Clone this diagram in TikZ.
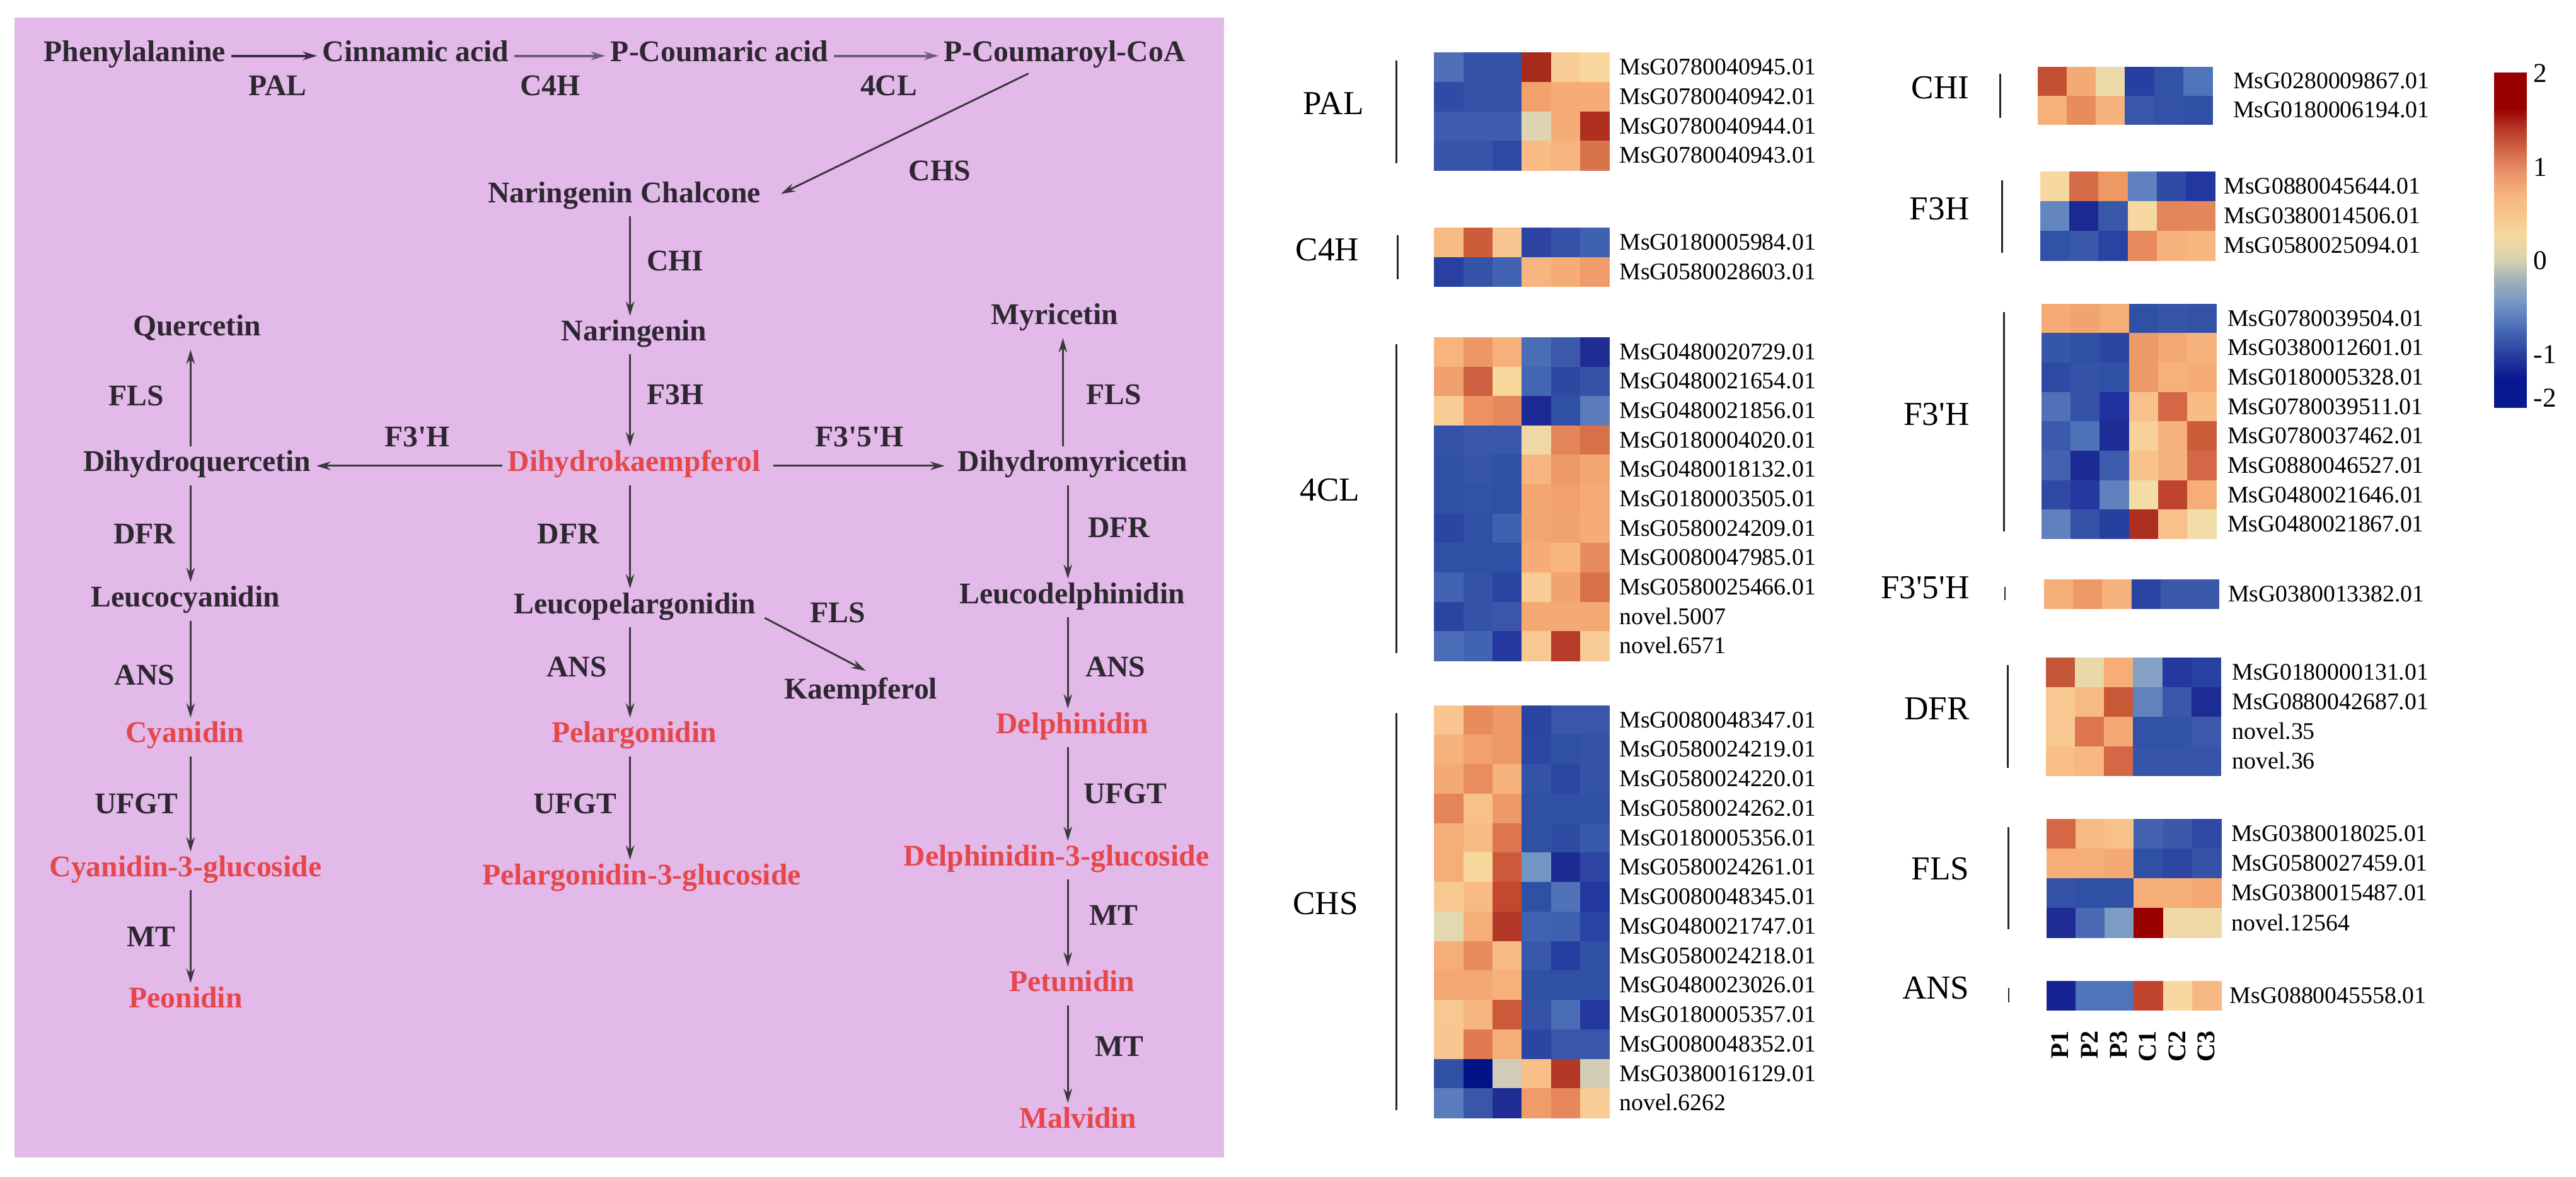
\documentclass[tikz,border=0pt]{standalone}
\usepackage{fontspec}
\setmainfont{Liberation Serif}
\usetikzlibrary{arrows.meta,calc}

\definecolor{panel}{RGB}{227,185,234}
\definecolor{ink}{HTML}{2D2830}
\definecolor{pigment}{HTML}{E5474B}
\definecolor{flowgray}{HTML}{3A3A3A}
\definecolor{rowone}{HTML}{3D2A48}
\definecolor{rowtwo}{HTML}{6E5C7C}

% one heat map block: x0, y0, row height, rows of cell colours
\newcommand{\hmblock}[4]{%
  \foreach \hmline [count=\j from 0] in {#4}{%
    \foreach \hc [count=\k from 0] in \hmline{%
      \definecolor{hmcell}{HTML}{\hc}%
      \fill[hmcell] ({#1+17.75*\k},{#2+#3*\j}) rectangle ++(17.95,{#3+0.2});
    }%
  }}
% gene names beside a block: name prefix, x, y0, row height, names
\newcommand{\genes}[5]{%
  \foreach \g [count=\j from 0] in {#5}
    \node[gene] (#1\j) at (#2,{#3+#4*\j+#4/2}) {\g};}

\begin{document}
\begin{tikzpicture}[x=0.025cm, y=-0.025cm, line join=round,
    >={Stealth[length=2.2mm,width=1.3mm]},
    cpd/.style={font=\fontsize{13}{15}\selectfont\bfseries, text=ink, inner xsep=0.075cm, inner ysep=0.125cm, text height=0.7em, text depth=0.22em},
    pig/.style={cpd, text=pigment},
    enz/.style={font=\fontsize{13}{15}\selectfont\bfseries, text=ink, inner sep=0pt},
    flow/.style={->, draw=flowgray, line width=0.8pt},
    gene/.style={font=\fontsize{10.3}{12}\selectfont, anchor=west, inner sep=0pt, text height=0.66em, text depth=0pt},
    group/.style={font=\fontsize{14.5}{16}\selectfont, inner sep=0pt, text height=0.66em, text depth=0pt},
    gbar/.style={draw=black!85, line width=0.8pt},
    collab/.style={font=\fontsize{11}{13}\selectfont\bfseries, rotate=90, anchor=east, inner sep=0pt, text height=0.66em, text depth=0pt},
    cblab/.style={font=\fontsize{11.8}{13}\selectfont, anchor=west, inner sep=0pt, text height=0.66em, text depth=0pt}]
\useasboundingbox (0,0) rectangle (1568,716);

% ---------------- pathway ----------------
\fill[panel] (9,10.7) rectangle (745,704.3);
\coordinate (colL) at (116,0);
\coordinate (colM) at (383.5,0);
\coordinate (colR) at (650,0);
\coordinate (colQ) at (116,0);
\coordinate (colY) at (647,0);

\node[cpd] (phe)  at (82,34)  {Phenylalanine};
\node[cpd] (cin)  at (253,34) {Cinnamic acid};
\node[cpd] (pcou) at (438,34) {P-Coumaric acid};
\node[cpd] (pcoa) at (648,34) {P-Coumaroyl-CoA};
\node[cpd] (chal) at (380,120) {Naringenin Chalcone};
\node[cpd] (nar)  at (386,204) {Naringenin};
\node[cpd] (que)  at (120,201) {Quercetin};
\node[cpd] (myr)  at (642,194) {Myricetin};
\node[cpd] (dhq)  at (120,283.5) {Dihydroquercetin};
\node[pig] (dhk)  at (386,283.5) {Dihydrokaempferol};
\node[cpd] (dhm)  at (653,283.5) {Dihydromyricetin};
\node[cpd] (lcy)  at (113,366) {Leucocyanidin};
\node[cpd] (lpel) at (386.5,370) {Leucopelargonidin};
\node[cpd] (ldel) at (652.6,364) {Leucodelphinidin};
\node[cpd] (kae)  at (524,422) {Kaempferol};
\node[pig] (cya)  at (112.5,448.5) {Cyanidin};
\node[pig] (pel)  at (386,448.5) {Pelargonidin};
\node[pig] (del)  at (652.6,443) {Delphinidin};
\node[pig] (cyg)  at (113,530) {Cyanidin-3-glucoside};
\node[pig] (pelg) at (390.5,535) {Pelargonidin-3-glucoside};
\node[pig] (delg) at (643,523.5) {Delphinidin-3-glucoside};
\node[pig] (peo)  at (113,610) {Peonidin};
\node[pig] (pet)  at (652.6,600) {Petunidin};
\node[pig] (mal)  at (656,683) {Malvidin};

\draw[->, draw=rowone, line width=1.1pt] (phe) -- (cin);
\draw[->, draw=rowtwo, line width=1.1pt] (cin) -- (pcou);
\draw[->, draw=rowtwo, line width=1.1pt] (pcou) -- (pcoa);
\draw[flow] ($(pcoa.south)+(-22,-1)$) -- ($(chal.east)+(9,-2)$);

\draw[flow] (chal.south -| colM) -- (nar.north -| colM);
\draw[flow] (nar.south -| colM) -- (dhk.north -| colM);
\draw[flow] (dhk.south -| colM) -- (lpel.north -| colM);
\draw[flow] (lpel.south -| colM) -- (pel.north -| colM);
\draw[flow] (pel.south -| colM) -- (pelg.north -| colM);
\draw[flow] ($(lpel.east)+(2,6)$) -- ($(kae.north)+(3,-2)$);

\draw[flow] (dhk) -- (dhq);
\draw[flow, shorten <=0.12cm, shorten >=0.12cm] (dhk) -- (dhm);
\draw[flow] (dhq.north -| colQ) -- (que.south -| colQ);
\draw[flow] (dhq.south -| colL) -- (lcy.north -| colL);
\draw[flow] (lcy.south -| colL) -- (cya.north -| colL);
\draw[flow] (cya.south -| colL) -- (cyg.north -| colL);
\draw[flow] (cyg.south -| colL) -- (peo.north -| colL);

\draw[flow] (dhm.north -| colY) -- (myr.south -| colY);
\draw[flow] (dhm.south -| colR) -- (ldel.north -| colR);
\draw[flow] (ldel.south -| colR) -- (del.north -| colR);
\draw[flow] (del.south -| colR) -- (delg.north -| colR);
\draw[flow] (delg.south -| colR) -- (pet.north -| colR);
\draw[flow] (pet.south -| colR) -- (mal.north -| colR);

\node[enz] (epal)  at (169,52) {PAL};
\node[enz] (ec4h)  at (335,52) {C4H};
\node[enz] (e4cl)  at (541,52) {4CL};
\node[enz] (echs)  at (572,104) {CHS};
\node[enz] (echi)  at (411,159) {CHI};
\node[enz] (eflsq) at (83,241) {FLS};
\node[enz] (ef3h)  at (411,240) {F3H};
\node[enz] (eflsm) at (678,240) {FLS};
\node[enz] (ef3p)  at (254,266) {F3\textquotesingle H};
\node[enz] (ef35)  at (523,266) {F3\textquotesingle 5\textquotesingle H};
\node[enz] (edfrl) at (88,325) {DFR};
\node[enz] (edfrm) at (346,325) {DFR};
\node[enz] (edfrr) at (681,321) {DFR};
\node[enz] (eflsk) at (510,373) {FLS};
\node[enz] (eansl) at (88,411) {ANS};
\node[enz] (eansm) at (351,406) {ANS};
\node[enz] (eansr) at (679,406) {ANS};
\node[enz] (eufl)  at (83,489) {UFGT};
\node[enz] (eufm)  at (350,489) {UFGT};
\node[enz] (eufr)  at (685,483) {UFGT};
\node[enz] (emtl)  at (92,570) {MT};
\node[enz] (emtr)  at (678,557) {MT};
\node[enz] (emtp)  at (681.5,637) {MT};

% ---------------- heat maps, left column ----------------
\hmblock{873}{32}{17.9}{%
{4F70B8,3553A8,3553A8,A82A1A,F8CC94,F8D89C},%
{2F4BA5,3452A8,3452A8,F2A06C,F6AC76,F6AC76},%
{3F5DB0,3F5DB0,3F5DB0,DED6B2,F6AC76,B03020},%
{3755AA,3755AA,2E48A6,F8BC84,F6B47E,D8744A}}
\hmblock{873}{138.4}{18}{%
{F7BA82,CC5C3A,F8C490,2E44A2,3452A8,4060B0},%
{2840A0,3452A8,4262B2,F6B47E,F6AC76,F09C6A}}
\hmblock{873}{205.2}{17.9}{%
{F7B47E,EE9664,F7B07C,4A6EB6,3C58AA,1E2C94},%
{F0A06C,CC6040,F8D89C,4466B2,2E48A2,3452A8},%
{F8CC94,EE9262,E6885C,1E2A94,3050A6,5A7CBA},%
{3452A8,3A58AA,3A58AA,F0D8A6,E4845A,D8704A},%
{3050A6,3654AA,3050A6,F7B47E,EE9A68,F4A670},%
{3050A6,3252A8,3050A6,F4A670,F2A06C,F6AC76},%
{2A46A2,3050A6,4060B0,F4A670,F2A470,F6AC76},%
{3050A6,3050A6,3050A6,F6AC76,F7B67E,E68C60},%
{4262B2,3452A8,2A44A2,F8CC94,F2A470,D8704A},%
{2A44A2,3452A8,3A56AA,F4A872,F4AA74,F4A872},%
{4A6CB6,4262B2,2438A0,F8C892,B83C2A,F8CC94}}
\hmblock{873}{429.2}{17.93}{%
{F8C490,E88C5C,EE9A68,2A44A2,3A56AA,3A56AA},%
{F6B27C,F2A06C,EE9A68,2C48A4,3050A6,3452A8},%
{F4AA74,EA8E60,F6B27C,3452A8,2C46A2,3452A8},%
{E4845A,F8C08A,EE9A68,3050A6,3050A6,3050A6},%
{F6AE78,F7BC84,DE7450,3050A6,2E4CA4,3858AA},%
{F6AE78,F8D89C,CC5A3A,7296C4,1C2A92,2E46A2},%
{F8C892,F7BA82,C4482E,3050A6,5072B8,2238A0},%
{E4D8B0,F6AE78,B43828,4062B0,4060B0,2A42A2},%
{F6AE78,E88C5E,F8BA84,3A58AA,263EA0,3050A6},%
{F4A874,F4A874,F6B07A,3050A6,3050A6,3050A6},%
{F8C892,F6B47E,CC5A3A,3452A8,4A6CB6,2438A0},%
{F8C490,E07A50,F6AE78,2A46A2,3A56AA,3A56AA},%
{3050A6,001488,D0CCB8,F8C088,B43826,D2CEB6},%
{5A7CBC,3A56AA,1E2C94,F09C6A,E6885C,F8CC94}}

\genes{pal}{985.5}{32}{17.9}{MsG0780040945.01,MsG0780040942.01,MsG0780040944.01,MsG0780040943.01}
\genes{cfh}{985.5}{138.4}{18}{MsG0180005984.01,MsG0580028603.01}
\genes{fcl}{985.5}{205.2}{17.9}{MsG0480020729.01,MsG0480021654.01,MsG0480021856.01,MsG0180004020.01,MsG0480018132.01,MsG0180003505.01,MsG0580024209.01,MsG0080047985.01,MsG0580025466.01,novel.5007,novel.6571}
\genes{chs}{985.5}{429.2}{17.93}{MsG0080048347.01,MsG0580024219.01,MsG0580024220.01,MsG0580024262.01,MsG0180005356.01,MsG0580024261.01,MsG0080048345.01,MsG0480021747.01,MsG0580024218.01,MsG0480023026.01,MsG0180005357.01,MsG0080048352.01,MsG0380016129.01,novel.6262}

\draw[gbar] (850,36.8) -- (850,99.5);
\draw[gbar] (850.6,143) -- (850.6,170);
\draw[gbar] (850,209.6) -- (850,397.4);
\draw[gbar] (850,434) -- (850,675.6);
\node[group] (gpal) at (811.7,65) {PAL};
\node[group] (gc4h) at (808,154) {C4H};
\node[group] (g4cl) at (809.5,300) {4CL};
\node[group] (gchs) at (806.8,552) {CHS};

% ---------------- heat maps, right column ----------------
\hmblock{1240.2}{40.5}{17.65}{%
{C45032,F4AA74,EEDAA8,2640A2,3252A8,5074BA},%
{F6B07A,E88C5E,F6B27C,3856AA,3452A8,3050A6}}
\hmblock{1241.8}{104.3}{18.1}{%
{F6D8A0,D66C48,EE9864,5E80BE,2E4AA4,2238A0},%
{6486C0,1C2894,3A58AA,F6D8A0,E4845A,E4865C},%
{3252A8,3A58AA,2A42A2,E88A5E,F6B27C,F7B67E}}
\hmblock{1242.6}{184.8}{17.9}{%
{F6AA74,F2A470,F6AE78,3050A6,3654AA,3452A8},%
{3656AA,3050A6,2A46A2,EE9A68,F4A872,F6B27C},%
{2E4AA4,3452A8,3050A6,EE9A68,F6B07A,F6AC76},%
{5070B8,3452A8,2032A0,F8C08A,D46846,F8BC84},%
{3C5AAC,5072B8,1E2C96,F8D09A,F6B27C,CC5C3A},%
{4262B0,1C2A94,3E5CAE,F8C28C,F6B27C,D46846},%
{2E4AA4,2438A0,6080BE,F4DCA6,BE4430,F6AE78},%
{6080BE,3452A8,2640A0,AC2E1E,F8C08A,F2DCA8}}
\hmblock{1244.1}{352.7}{17.9}{%
{F6AE78,EE9866,F6B27C,2A42A2,3A58AA,3A58AA}}
\hmblock{1245.2}{400}{18.05}{%
{C45638,EAD8A8,F6AE76,84A0C4,2438A0,2840A2},%
{F8C892,F6BA84,C85838,6282BE,3A58AA,1E2C96},%
{F8C892,DE7450,F4A874,3252A8,3252A8,3C5AAC},%
{F7BE86,F6B880,D46846,3654AA,3654AA,3654AA}}
\hmblock{1245.6}{498.4}{18.07}{%
{D46846,F7BA82,F8C08A,4262B0,3A58AA,2E48A4},%
{F6AE78,F6AE78,F4A872,3050A6,2C46A2,3452A8},%
{3452A8,3050A6,3050A6,F6AE78,F6AE78,F4A872},%
{1E2C94,4A6AB6,7C9CC4,990000,F0D8A6,F0D8A6}}
\hmblock{1245.6}{596.9}{17.9}{%
{142294,5074BA,5074BA,C04430,F6D8A0,F6B882}}

\genes{chi}{1359}{40.5}{17.65}{MsG0280009867.01,MsG0180006194.01}
\genes{fth}{1353.5}{104.3}{18.1}{MsG0880045644.01,MsG0380014506.01,MsG0580025094.01}
\genes{ftp}{1355.7}{184.8}{17.9}{MsG0780039504.01,MsG0380012601.01,MsG0180005328.01,MsG0780039511.01,MsG0780037462.01,MsG0880046527.01,MsG0480021646.01,MsG0480021867.01}
\genes{ftf}{1356}{352.7}{17.9}{MsG0380013382.01}
\genes{dfr}{1358.5}{400}{18.05}{MsG0180000131.01,MsG0880042687.01,novel.35,novel.36}
\genes{fls}{1358}{498.4}{18.07}{MsG0380018025.01,MsG0580027459.01,MsG0380015487.01,novel.12564}
\genes{ans}{1357}{596.9}{17.9}{MsG0880045558.01}

\draw[gbar] (1217.5,45) -- (1217.5,71.6);
\draw[gbar] (1218.6,109.7) -- (1218.6,153.7);
\draw[gbar] (1219.9,190) -- (1219.9,323.5);
\draw[gbar] (1220.4,357) -- (1220.4,365.4);
\draw[gbar] (1222,404.7) -- (1222,467.3);
\draw[gbar] (1222.5,503.5) -- (1222.5,565.5);
\draw[gbar] (1222.7,601) -- (1222.7,610);
\node[group, anchor=east] (gchi) at (1199,55.5) {CHI};
\node[group, anchor=east] (gf3h) at (1199,129) {F3H};
\node[group, anchor=east] (gftp) at (1199,254) {F3\textquotesingle H};
\node[group, anchor=east] (gftf) at (1199,359.7) {F3\textquotesingle 5\textquotesingle H};
\node[group, anchor=east] (gdfr) at (1199,433.3) {DFR};
\node[group, anchor=east] (gfls) at (1199,530.7) {FLS};
\node[group, anchor=east] (gans) at (1199,603.2) {ANS};

\foreach \s [count=\k from 0] in {P1,P2,P3,C1,C2,C3}
  \node[collab] (col\s) at ({1254.5+17.75*\k},627) {\s};

% ---------------- colour key ----------------
\foreach \ya/\ca/\yb/\cb in {44.6/990000/66/990000, 66/990000/79/B83A28, 79/B83A28/92/D46848,
    92/D46848/104/E99068, 104/E99068/119/F7B57F, 119/F7B57F/133.5/F8C890, 133.5/F8C890/142.3/F6DA9E,
    142.3/F6DA9E/158.4/D8D2B0, 158.4/D8D2B0/168.8/A8B4B8, 168.8/A8B4B8/183.4/7898C6,
    183.4/7898C6/199.5/4A6CB6, 199.5/4A6CB6/214/2A44A2, 214/2A44A2/230.3/0A1890, 230.3/0A1890/248/061890}{
  \definecolor{ctop}{HTML}{\ca}\definecolor{cbot}{HTML}{\cb}
  \shade[top color=ctop, bottom color=cbot] (1518.3,\ya-0.2) rectangle (1538,\yb+0.2);
}
\node[cblab] (cb2)  at (1542,45.3)  {2};
\node[cblab] (cb1)  at (1542,102.6) {1};
\node[cblab] (cb0)  at (1542,159.2) {0};
\node[cblab] (cbm1) at (1542,216.4) {-1};
\node[cblab] (cbm2) at (1542,243)   {-2};
\end{tikzpicture}
\end{document}
